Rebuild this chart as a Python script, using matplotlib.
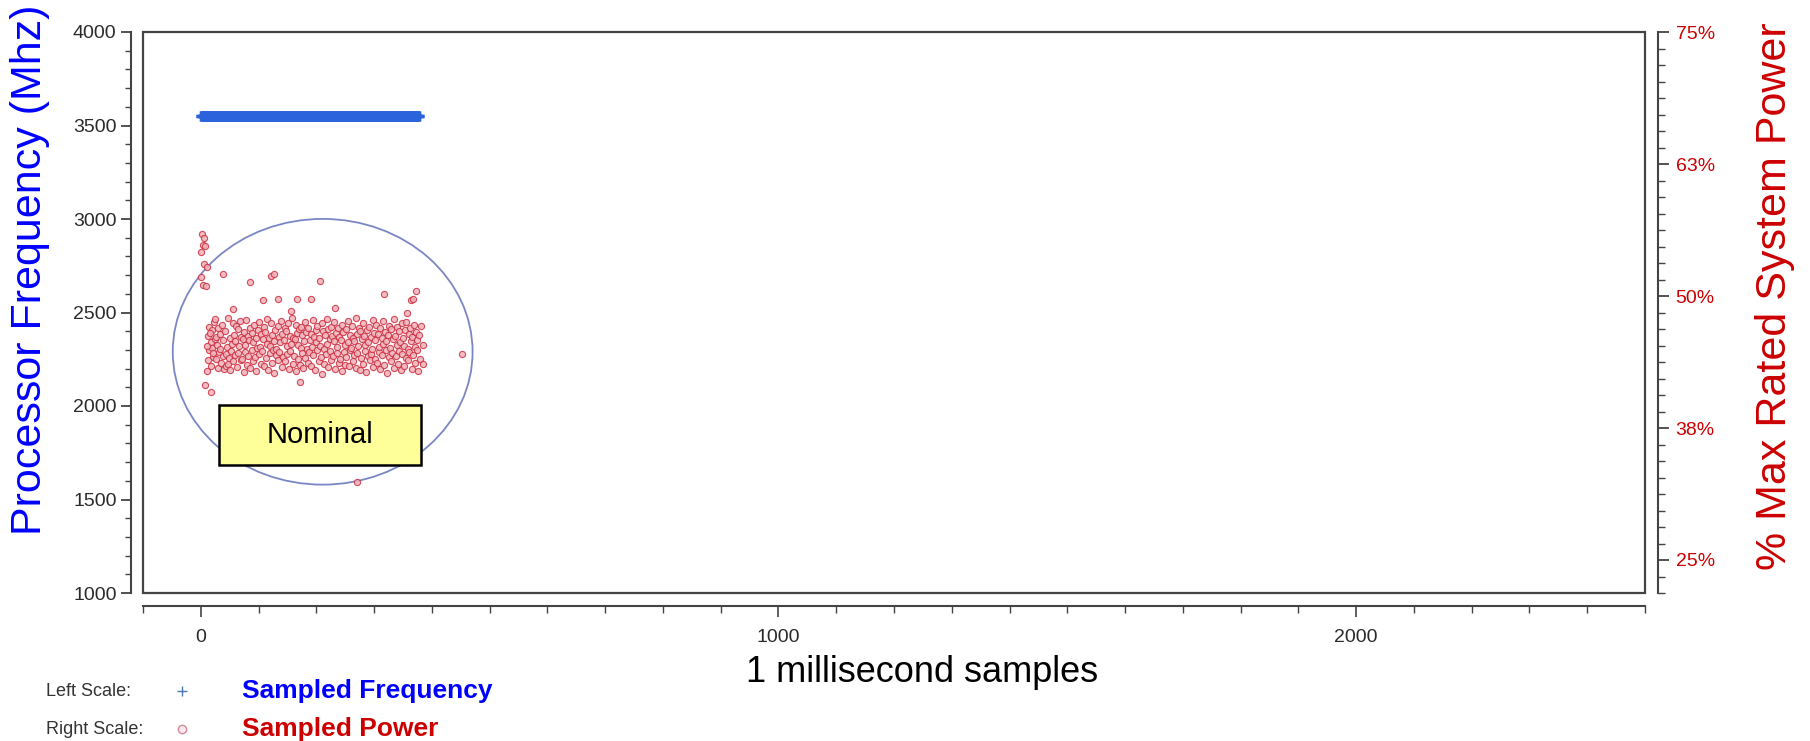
import numpy as np
import matplotlib
matplotlib.use('Agg')
import matplotlib.pyplot as plt
from matplotlib.patches import Ellipse, Rectangle
from matplotlib.lines import Line2D
from matplotlib.ticker import MultipleLocator, FixedLocator, FuncFormatter
from matplotlib import font_manager

plt.rcParams['font.family'] = ['Liberation Sans', 'DejaVu Sans']

# narrow face for the small tick/legend labels if it is there
names = {f.name for f in font_manager.fontManager.ttflist}
narrow = 'Liberation Sans Narrow' if 'Liberation Sans Narrow' in names else 'Liberation Sans'

# sampled frequency (left scale, MHz) - flat at nominal for the whole run
freq_start, freq_end = 0, 378
freq_mhz = 3550

# sampled power (right scale, % of max rated system power)
power_x = [
    2, 5, 3, 8, 1, 6, 0, 4, 9, 10, 38, 85, 122, 126, 207, 317, 372, 108, 166, 364,
    56, 233, 157, 357, 133, 191, 367, 7, 17, 171, 453, 270,
    12, 14, 15, 17, 18, 19, 20, 22, 23, 24, 13, 16, 21, 25, 11, 10,
    26, 27, 28, 29, 30, 31, 33, 34, 35, 36, 38, 39, 40, 42, 43, 44, 45, 47, 48, 49, 50,
    51, 52, 54, 55, 56, 57, 59, 60, 61, 63, 64, 65, 67, 68, 69, 70, 72, 73, 74, 75,
    76, 77, 79, 80, 81, 82, 84, 85, 86, 88, 89, 90, 91, 93, 94, 95, 96, 98, 99, 100,
    101, 102, 104, 105, 106, 108, 109, 110, 111, 113, 114, 115, 116, 118, 119, 120, 121, 123, 124, 125,
    126, 127, 129, 130, 131, 133, 134, 135, 136, 138, 139, 140, 141, 143, 144, 145, 146, 148, 149, 150,
    151, 152, 154, 155, 156, 158, 159, 160, 161, 163, 164, 165, 166, 168, 169, 170, 171, 173, 174, 175,
    176, 177, 179, 180, 181, 183, 184, 185, 186, 188, 189, 190, 191, 193, 194, 195, 196, 198, 199, 200,
    201, 202, 204, 205, 206, 208, 209, 210, 211, 213, 214, 215, 216, 218, 219, 220, 221, 223, 224, 225,
    226, 227, 229, 230, 231, 233, 234, 235, 236, 238, 239, 240, 241, 243, 244, 245, 246, 248, 249, 250,
    251, 252, 254, 255, 256, 258, 259, 260, 261, 263, 264, 265, 266, 268, 269, 270, 271, 273, 274, 275,
    276, 277, 279, 280, 281, 283, 284, 285, 286, 288, 289, 290, 291, 293, 294, 295, 296, 298, 299, 300,
    301, 302, 304, 305, 306, 308, 309, 310, 311, 313, 314, 315, 316, 318, 319, 320, 321, 323, 324, 325,
    326, 327, 329, 330, 331, 333, 334, 335, 336, 338, 339, 340, 341, 343, 344, 345, 346, 348, 349, 350,
    351, 352, 354, 355, 356, 358, 359, 360, 361, 363, 364, 365, 366, 368, 369, 370, 371, 373, 374, 375,
    376, 378, 380, 382, 384, 385,
]
power_pct = [
    55.9, 55.5, 54.8, 54.7, 54.2, 53.0, 51.8, 51.0, 50.9, 52.7, 52.1, 51.3, 51.9, 52.1, 51.4, 50.2, 50.5, 49.6, 49.7, 49.6,
    48.8, 48.9, 48.6, 48.4, 49.7, 49.7, 49.7, 41.6, 40.9, 41.9, 44.5, 32.4,
    46.2, 44.9, 47.1, 45.6, 43.4, 46.8, 45.1, 44.2, 47.5, 45.9, 43.9, 46.5, 44.6, 47.8, 45.3, 42.9,
    44.0, 46.1, 45.4, 43.2, 47.0, 44.7, 46.4, 45.0, 43.7, 47.3, 44.3, 45.8, 43.1, 46.7, 44.5, 43.4, 45.2, 43.6, 47.9, 44.1, 43.0,
    46.0, 44.8, 45.5, 47.4, 43.8, 46.3, 44.4, 45.7, 47.2, 43.3, 46.9, 44.6, 45.3, 47.6, 43.9, 46.1, 44.0, 45.9, 42.8, 46.6,
    44.7, 45.4, 47.7, 43.5, 46.2, 44.3, 45.8, 47.0, 43.2, 46.5, 44.9, 45.6, 43.8, 47.3, 44.2, 46.0, 42.9, 45.1, 46.8, 44.5,
    47.5, 45.2, 43.6, 46.4, 44.8, 45.9, 47.1, 43.4, 46.6, 44.1, 45.5, 47.8, 43.0, 46.0, 44.6, 45.3, 47.4, 43.7, 46.3, 44.9,
    45.7, 42.7, 46.8, 44.4, 45.0, 47.2, 43.9, 46.1, 44.7, 45.6, 47.6, 43.3, 46.4, 44.2, 45.8, 47.0, 43.8, 46.7, 44.5, 45.3,
    47.4, 43.1, 46.2, 44.8, 45.5, 47.9, 43.6, 46.0, 44.3, 45.9, 47.3, 42.9, 46.5, 44.0, 45.4, 46.9, 43.5, 45.1, 47.1, 44.6,
    46.3, 43.2, 45.7, 47.5, 44.1, 46.6, 45.0, 43.7, 47.0, 44.7, 45.8, 46.4, 43.4, 45.2, 47.7, 44.4, 46.1, 43.0, 45.6, 46.8,
    44.9, 47.2, 43.8, 46.0, 45.3, 44.2, 47.4, 42.6, 46.7, 45.0, 43.6, 46.3, 44.5, 47.8, 45.5, 43.3, 46.9, 44.8, 45.9, 47.1,
    43.9, 46.2, 44.3, 45.7, 47.5, 43.1, 46.5, 44.6, 45.2, 47.0, 43.7, 46.1, 44.0, 45.8, 47.3, 42.9, 46.6, 44.7, 45.4, 43.5,
    46.9, 44.2, 45.6, 47.6, 43.4, 46.3, 44.9, 45.1, 47.2, 43.8, 46.0, 44.4, 45.7, 47.9, 43.2, 46.4, 44.6, 45.3, 47.0, 43.0,
    46.7, 44.1, 45.9, 47.4, 43.6, 46.2, 44.8, 45.4, 42.8, 46.8, 44.3, 45.6, 47.1, 43.9, 46.1, 44.5, 45.0, 47.7, 43.3, 46.5,
    44.0, 45.8, 47.3, 43.7, 46.4, 44.7, 45.2, 47.0, 43.1, 46.0, 44.4, 45.5, 47.6, 43.5, 46.6, 44.9, 45.7, 42.7, 46.3, 44.2,
    47.2, 45.1, 43.8, 46.9, 44.6, 45.9, 47.8, 43.2, 46.2, 44.3, 45.4, 47.1, 43.6, 46.7, 44.8, 45.6, 43.0, 47.4, 44.5, 46.0,
    45.3, 43.4, 46.8, 44.1, 47.5, 45.0, 43.9, 46.4, 44.7, 47.0, 45.7, 43.1, 46.1, 44.4, 47.3, 45.2, 43.7, 46.6, 44.9, 45.8,
    42.9, 46.3, 44.0, 47.2, 45.4, 43.6,
]

right_ticks = [25, 37.5, 50, 62.5, 75]
right_labels = ['25%', '38%', '50%', '63%', '75%']

W, H = 1810, 741
fig = plt.figure(figsize=(W / 100, H / 100), dpi=100)

def fx(px):
    return px / W

def fy(py):
    return 1 - py / H

ax = fig.add_axes([fx(143), fy(593), fx(1645) - fx(143), fy(32) - fy(593)])
ax.set_xlim(-100, 2500)
ax.set_ylim(1000, 4000)

grey = '#444444'
for s in ['right', 'top']:
    ax.spines[s].set_visible(False)
ax.spines['left'].set_position(('outward', 9))
ax.spines['bottom'].set_position(('outward', 9))
for s in ['left', 'bottom']:
    ax.spines[s].set_color(grey)
    ax.spines[s].set_linewidth(1.5)

frame = Rectangle((0, 0), 1, 1, transform=ax.transAxes, fill=False,
                  ec=grey, lw=1.6, clip_on=False, zorder=5)
ax.add_patch(frame)

ax.yaxis.set_major_locator(MultipleLocator(500))
ax.yaxis.set_minor_locator(MultipleLocator(100))
ax.tick_params(axis='y', which='major', length=7, width=1.3, color=grey,
               labelsize=14, labelcolor='#2a2a2a', pad=3)
ax.tick_params(axis='y', which='minor', length=4, width=1.0, color=grey)

ax.xaxis.set_major_locator(MultipleLocator(1000))
ax.xaxis.set_minor_locator(MultipleLocator(100))
ax.tick_params(axis='x', which='major', length=8, width=1.2, color=grey,
               labelsize=14, labelcolor='#2a2a2a', pad=9)
ax.tick_params(axis='x', which='minor', length=5, width=1.0, color=grey)
for lab in ax.get_xticklabels() + ax.get_yticklabels():
    lab.set_family(narrow)

# frequency samples
fs = np.arange(freq_start, freq_end + 1)
ax.plot(fs, np.full(len(fs), freq_mhz), ls='none', marker='+', ms=7,
        mew=2.4, color='#2b63dd', zorder=3)

# annotation ellipse and box
ax.add_patch(Ellipse((211, 2290), 519, 1421, fill=False, ec='#7b86c4',
                     lw=1.3, zorder=2))
ax.add_patch(Rectangle((31, 1686), 351, 321, fc='#ffff99', ec='black',
                       lw=1.8, zorder=6))
ax.text(206, 1846, 'Nominal', ha='center', va='center', fontsize=21,
        color='black', zorder=7)

# right axis
ax2 = ax.twinx()
ax2.set_ylim(21.875, 75)
for s in ['left', 'top', 'bottom']:
    ax2.spines[s].set_visible(False)
ax2.spines['right'].set_position(('outward', 9))
ax2.spines['right'].set_color(grey)
ax2.spines['right'].set_linewidth(1.5)
ax2.yaxis.set_major_locator(FixedLocator(right_ticks))
ax2.yaxis.set_major_formatter(FuncFormatter(
    lambda v, p: right_labels[right_ticks.index(v)] if v in right_ticks else ''))
ax2.yaxis.set_minor_locator(MultipleLocator(12.5 / 8))
ax2.tick_params(axis='y', which='major', length=8, width=1.3, color=grey,
                labelsize=14, labelcolor='#cc0000', pad=5)
ax2.tick_params(axis='y', which='minor', length=5, width=1.0, color=grey)

ax2.scatter(power_x, power_pct, s=20, marker='o', facecolor='#f2b0b8',
            edgecolor='#cc3040', linewidth=0.8, alpha=0.85, zorder=4)

# axis titles
fig.text(fx(30), fy(270), 'Processor Frequency (Mhz)', rotation=90,
         ha='center', va='center', fontsize=31, color='#0000ff')
fig.text(fx(1775), fy(296), '% Max Rated System Power', rotation=90,
         ha='center', va='center', fontsize=31, color='#cc0000')
fig.text(fx(922), fy(673), '1 millisecond samples', ha='center',
         va='center', fontsize=26, color='black')

# legend
fig.text(fx(46), fy(691), 'Left Scale:', ha='left', va='center',
         fontsize=13, color='#333333', family=narrow)
fig.text(fx(46), fy(729), 'Right Scale:', ha='left', va='center',
         fontsize=13, color='#333333', family=narrow)
fig.add_artist(Line2D([fx(182)], [fy(691)], marker='+', ms=7, mew=1,
                      color='#4a7ab5', transform=fig.transFigure))
fig.add_artist(Line2D([fx(182)], [fy(729)], marker='o', ms=6, mew=1,
                      mfc='#fbe8ec', mec='#d48a9a', transform=fig.transFigure))
fig.text(fx(242), fy(691), 'Sampled Frequency', ha='left', va='center',
         fontsize=19, fontweight='bold', color='#0000ff')
fig.text(fx(242), fy(729), 'Sampled Power', ha='left', va='center',
         fontsize=19, fontweight='bold', color='#cc0000')

fig.savefig('out.png', dpi=100)
